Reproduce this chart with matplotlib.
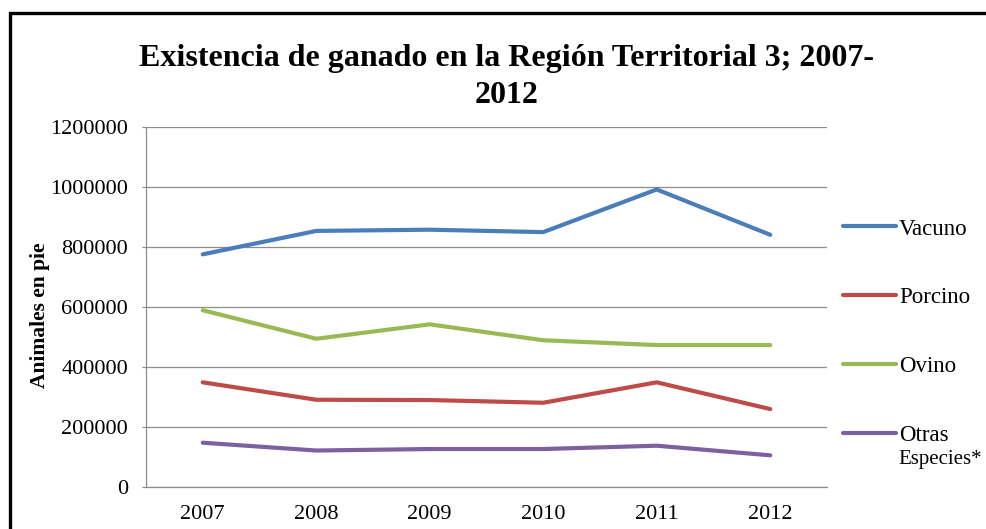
import matplotlib
matplotlib.use('Agg')
import matplotlib.pyplot as plt
import matplotlib.patches as mpatches
import numpy as np

plt.rcParams['font.family'] = ['Liberation Serif', 'DejaVu Serif']

years = ['2007', '2008', '2009', '2010', '2011', '2012']
vacuno = [776000, 854000, 858000, 850000, 992000, 841000]
porcino = [350000, 292000, 291000, 282000, 350000, 261000]
ovino = [590000, 495000, 543000, 490000, 474000, 474000]
otras = [149000, 123000, 128000, 128000, 139000, 107000]

series = [
    ('Vacuno', vacuno, '#4A7EBB'),
    ('Porcino', porcino, '#BE4B48'),
    ('Ovino', ovino, '#98B954'),
    ('Otras', otras, '#7D60A0'),
]

fig = plt.figure(figsize=(9.87, 5.29), dpi=100)
ax = fig.add_axes([0.1479, 0.0785, 0.69, 0.6815])

x = np.arange(len(years))
for name, vals, col in series:
    ax.plot(x, vals, color=col, linewidth=3.0, solid_capstyle='round', label=name)

ax.set_xlim(-0.5, len(years) - 0.5)
ax.set_ylim(0, 1200000)
ax.set_yticks(np.arange(0, 1200001, 200000))
ax.set_yticklabels([str(v) for v in range(0, 1200001, 200000)])
ax.set_xticks(x)
ax.set_xticklabels(years)
ax.yaxis.grid(True, color='#8C8C8C', linewidth=0.9)
ax.set_axisbelow(True)
for s in ['top', 'right']:
    ax.spines[s].set_visible(False)
for s in ['left', 'bottom']:
    ax.spines[s].set_color('#8C8C8C')
    ax.spines[s].set_linewidth(0.9)
ax.tick_params(axis='y', length=3, color='#8C8C8C', pad=10, labelsize=16)
ax.tick_params(axis='x', length=0, pad=12.5, labelsize=16)

ax.set_ylabel('Animales en pie', fontsize=15.5, fontweight='bold')
ax.yaxis.set_label_coords(-0.1405, 0.478)

fig.text(0.513, 0.854, 'Existencia de ganado en la Región Territorial 3; 2007-\n2012',
         ha='center', va='center', fontsize=23, fontweight='bold', linespacing=1.34)

leg = ax.legend(loc='upper left', bbox_to_anchor=(0.854, 0.587), bbox_transform=fig.transFigure,
                frameon=False, fontsize=16.5, handlelength=2.31, handletextpad=0.13,
                labelspacing=2.08, borderaxespad=0, borderpad=0)
# second line of the last legend label, hung under "Otras"
ax.annotate('Especies*', xy=(0, 0), xycoords=leg.get_texts()[-1], xytext=(0, -3),
            textcoords='offset points', va='top', ha='left', fontsize=15,
            zorder=10, annotation_clip=False, clip_on=False)

# outer chart frame
fig.patches.append(mpatches.Rectangle((0.0105, -0.1), 1.2, 1.0745, transform=fig.transFigure,
                                      fill=False, edgecolor='black', linewidth=2.4))

fig.savefig('out.png', dpi=100)
